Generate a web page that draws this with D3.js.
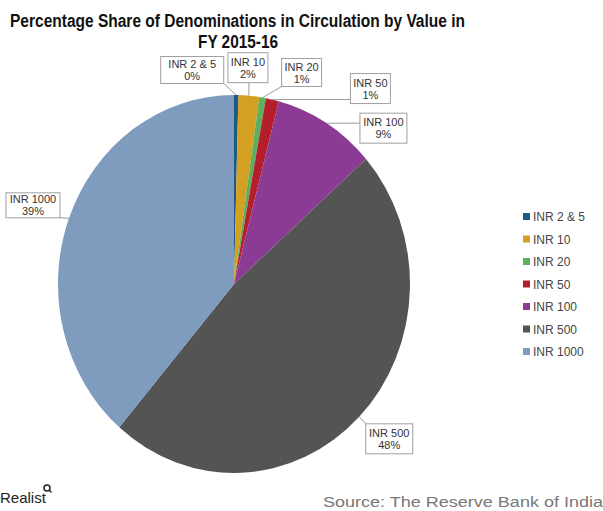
<!DOCTYPE html>
<html><head><meta charset="utf-8">
<script src="https://cdn.jsdelivr.net/npm/d3@7"></script>
<style>body{margin:0;background:#fff;}svg{display:block;}</style>
</head><body>
<svg id="c" width="603" height="511"></svg>
<script>
const categories = ["INR 2 & 5","INR 10","INR 20","INR 50","INR 100","INR 500","INR 1000"];
const shares = [0.4, 1.9, 0.6, 1.2, 9.4, 47.8, 38.7];
const colors = ["#1f5a86","#d4a021","#5fae5d","#b51f2b","#8c3b94","#545454","#7f9bbd"];
const titleLines = ["Percentage Share of Denominations in Circulation by Value in","FY 2015-16"];
const sourceText = "Source: The Reserve Bank of India";
// label box layout (centre offsets from slice edge midpoint, box size)
const labelLayout = [
  {dx:-44, dy:-25, w:63, h:27},
  {dx:-1, dy:-28, w:40, h:30},
  {dx:39, dy:-25, w:40, h:28},
  {dx:98, dy:-11, w:40, h:30},
  {dx:57, dy:5, w:47, h:30},
  {dx:30, dy:22, w:47, h:30},
  {dx:-36, dy:-13, w:54, h:25}
];

const svg = d3.select("#c");
const cx = 234, cy = 284, rx = 176, ry = 189;

// title
const title = svg.append("g").attr("font-family","'Liberation Sans Narrow','Arial Narrow','Liberation Sans',Arial,sans-serif")
  .attr("font-weight","bold").attr("font-size",18).attr("fill","#111");
title.append("text").attr("x",10).attr("y",27).attr("textLength",455).attr("lengthAdjust","spacingAndGlyphs").text(titleLines[0]);
title.append("text").attr("x",198).attr("y",48).attr("textLength",80).attr("lengthAdjust","spacingAndGlyphs").text(titleLines[1]);

const pie = d3.pie().sort(null).value(d=>d)(shares);
const arc = d3.arc().innerRadius(0).outerRadius(rx);
const g = svg.append("g").attr("transform",`translate(${cx},${cy}) scale(1,${ry/rx})`);
g.selectAll("path").data(pie).join("path").attr("d",arc).attr("fill",(d,i)=>colors[i]);

// labels
const lab = svg.append("g").attr("font-family","'Liberation Sans',Arial,sans-serif").attr("font-size",11).attr("fill","#333");
pie.forEach((d,i)=>{
  const a = (d.startAngle+d.endAngle)/2;
  const ax = cx + rx*Math.sin(a), ay = cy - ry*Math.cos(a);
  const L = labelLayout[i];
  const bx = ax + L.dx, by = ay + L.dy;
  const x0 = bx - L.w/2, y0 = by - L.h/2, x1 = bx + L.w/2, y1 = by + L.h/2;
  const px = Math.max(x0, Math.min(x1, ax)), py = Math.max(y0, Math.min(y1, ay));
  lab.append("line").attr("x1",ax).attr("y1",ay).attr("x2",px).attr("y2",py).attr("stroke","#999").attr("stroke-width",1);
  lab.append("rect").attr("x",x0).attr("y",y0).attr("width",L.w).attr("height",L.h).attr("fill","#fff").attr("stroke","#a0a0a0").attr("stroke-width",1);
  lab.append("text").attr("x",bx).attr("y",by-2).attr("text-anchor","middle").text(categories[i]);
  lab.append("text").attr("x",bx).attr("y",by+10).attr("text-anchor","middle").text(Math.round(shares[i])+"%");
});

// legend
const ly = d3.scalePoint().domain(categories).range([217,352]);
const leg = svg.append("g").attr("font-family","'Liberation Sans',Arial,sans-serif").attr("font-size",12).attr("fill","#444");
categories.forEach((c,i)=>{
  leg.append("rect").attr("x",523).attr("y",ly(c)-4).attr("width",7).attr("height",7).attr("fill",colors[i]);
  leg.append("text").attr("x",533).attr("y",ly(c)+4).text(c);
});

// footer
svg.append("text").attr("x",0).attr("y",503).attr("font-family","'Liberation Sans Narrow','Liberation Sans',Arial,sans-serif")
  .attr("font-size",15).attr("fill","#222").text("Realist");
svg.append("circle").attr("cx",47).attr("cy",488).attr("r",3).attr("fill","none").attr("stroke","#222").attr("stroke-width",1.5);
svg.append("line").attr("x1",49).attr("y1",490).attr("x2",51.5).attr("y2",492.5).attr("stroke","#222").attr("stroke-width",1.5);
svg.append("text").attr("x",323).attr("y",507).attr("font-family","'Liberation Sans',Arial,sans-serif").attr("font-size",14)
  .attr("fill","#777").attr("textLength",280).attr("lengthAdjust","spacingAndGlyphs").text(sourceText);
</script>
</body></html>
